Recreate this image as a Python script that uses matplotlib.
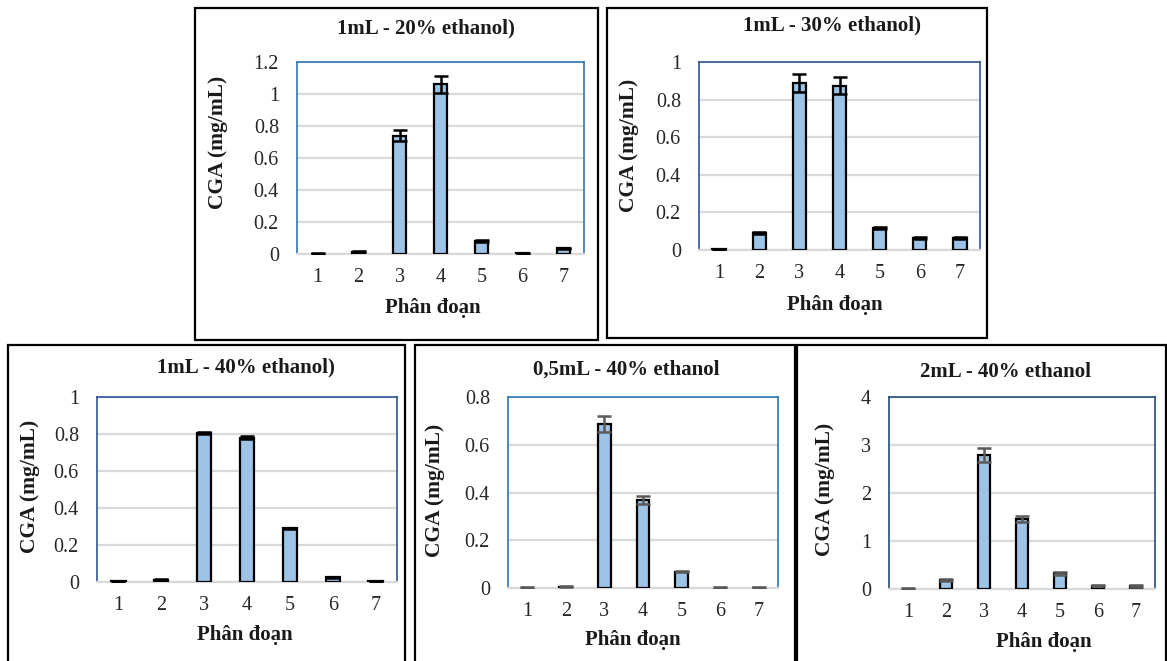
import matplotlib
matplotlib.use("Agg")
import matplotlib.pyplot as plt
from matplotlib.patches import Rectangle

W, H = 1167, 661
plt.rcParams['font.family'] = ['Liberation Serif', 'DejaVu Serif']

fractions = [1, 2, 3, 4, 5, 6, 7]

titles = ["1mL - 20% ethanol)", "1mL - 30% ethanol)", "1mL - 40% ethanol)",
          "0,5mL - 40% ethanol", "2mL - 40% ethanol"]

vals_20 = [0.003, 0.015, 0.74, 1.06, 0.08, 0.005, 0.035]
err_20 = [0.002, 0.005, 0.035, 0.055, 0.006, 0.002, 0.005]

vals_30 = [0.003, 0.09, 0.89, 0.875, 0.118, 0.062, 0.066]
err_30 = [0.001, 0.006, 0.047, 0.045, 0.006, 0.005, 0.005]

vals_40 = [0.003, 0.012, 0.805, 0.78, 0.29, 0.025, 0.003]
err_40 = [0.001, 0.003, 0.005, 0.008, 0.004, 0.003, 0.001]

vals_05 = [0.002, 0.005, 0.688, 0.368, 0.068, 0.002, 0.002]
err_05 = [0.001, 0.002, 0.034, 0.017, 0.003, 0.001, 0.001]

vals_2 = [0.01, 0.19, 2.79, 1.46, 0.33, 0.07, 0.065]
err_2 = [0.005, 0.02, 0.14, 0.07, 0.03, 0.015, 0.015]

yticks_list = [[0, 0.2, 0.4, 0.6, 0.8, 1, 1.2],
               [0, 0.2, 0.4, 0.6, 0.8, 1],
               [0, 0.2, 0.4, 0.6, 0.8, 1],
               [0, 0.2, 0.4, 0.6, 0.8],
               [0, 1, 2, 3, 4]]

data = [(vals_20, err_20), (vals_30, err_30), (vals_40, err_40), (vals_05, err_05), (vals_2, err_2)]

# layout (pixel coords: left, top, right, bottom)
axes_px = [(297, 62, 584, 254), (699, 62, 980, 250), (97, 397, 397, 582),
           (508, 397, 778, 588), (889, 397, 1155, 589)]
boxes_px = [(195, 8, 598, 340), (607, 8, 987, 338), (8, 345, 405, 668),
            (415, 345, 795, 668), (797, 345, 1166, 668)]
title_px = [(426, 28), (832, 25), (246, 367), (626, 370), (1005, 372)]
ylab_px = [(218, 142), (629, 145), (30, 486), (435, 490), (825, 489)]
xlab_px = [(433, 308), (835, 305), (245, 635), (633, 640), (1044, 642)]
spine_colors = ['#2E75B6', '#2F5597', '#2F5597', '#2E75B6', '#1F4E79']
err_colors = ['black', 'black', 'black', '#595959', '#595959']

fig = plt.figure(figsize=(W / 100, H / 100), dpi=100)
fig.patch.set_facecolor('white')

def fx(x):
    return x / W

def fy(y):
    return 1 - y / H

for i in range(5):
    l, t, r, b = boxes_px[i]
    fig.patches.append(Rectangle((fx(l), fy(b)), fx(r - l), (b - t) / H,
                                 transform=fig.transFigure, fill=False,
                                 edgecolor='black', linewidth=1.6, zorder=0))
    l, t, r, b = axes_px[i]
    ax = fig.add_axes([fx(l), fy(b), fx(r - l), (b - t) / H])
    vals, errs = data[i]
    yt = yticks_list[i]
    ax.bar(fractions, vals, width=0.33, color='#9DC3E6', edgecolor='black',
           linewidth=1.6, zorder=3)
    ax.errorbar(fractions, vals, yerr=errs, fmt='none', ecolor=err_colors[i],
                elinewidth=1.8, capsize=5, capthick=1.8, zorder=4)
    ax.set_xlim(0.5, 7.5)
    ax.set_ylim(0, yt[-1])
    ax.set_yticks(yt)
    ax.set_yticklabels([("%g" % v) for v in yt])
    ax.set_xticks(fractions)
    ax.tick_params(axis='both', length=0, labelsize=14.5, labelcolor='#262626')
    ax.tick_params(axis='y', pad=13)
    ax.tick_params(axis='x', pad=10)
    for s in ['left', 'right', 'top']:
        ax.spines[s].set_color(spine_colors[i])
        ax.spines[s].set_linewidth(1.2)
    ax.spines['bottom'].set_color('#D9D9D9')
    ax.spines['bottom'].set_linewidth(1.6)
    ax.grid(axis='y', color='#D9D9D9', linewidth=1.6, zorder=0)
    ax.set_axisbelow(True)
    fig.text(fx(title_px[i][0]), fy(title_px[i][1]), titles[i], ha='center', va='center',
             fontsize=15, fontweight='bold', color='#1a1a1a')
    fig.text(fx(ylab_px[i][0]), fy(ylab_px[i][1]), 'CGA (mg/mL)', ha='center', va='center',
             rotation=90, fontsize=15.5, fontweight='bold', color='#1a1a1a')
    fig.text(fx(xlab_px[i][0]), fy(xlab_px[i][1]), 'Phân đoạn', ha='center', va='center',
             fontsize=15, fontweight='bold', color='#1a1a1a')

fig.savefig('out.png', dpi=100)
